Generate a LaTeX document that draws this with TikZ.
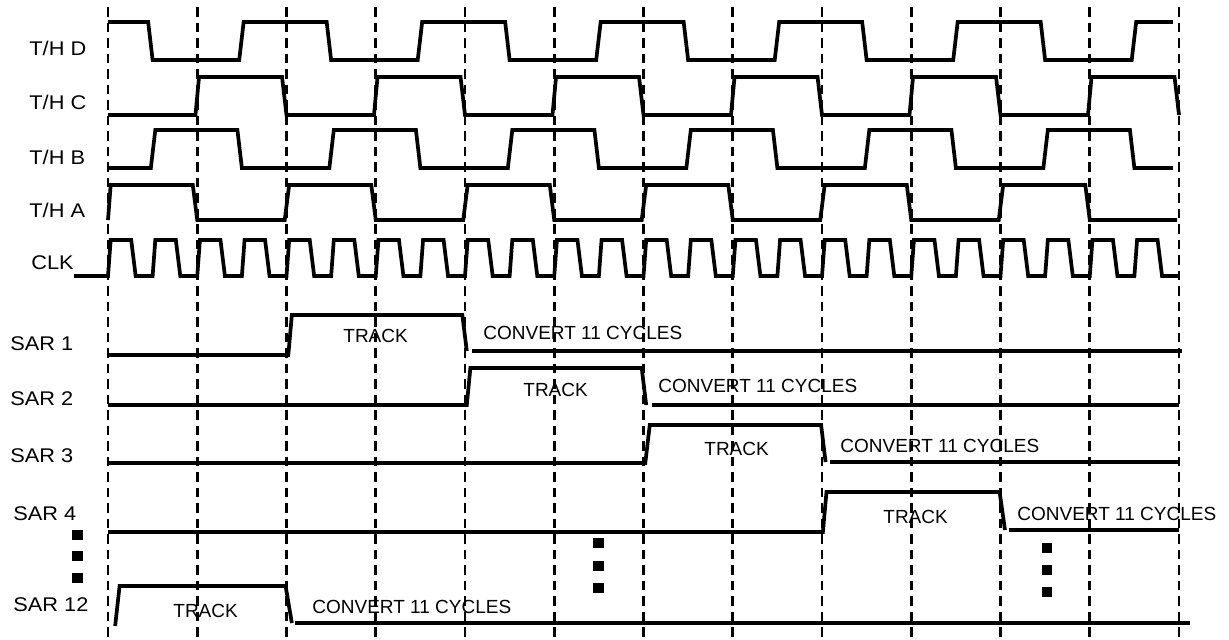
\documentclass[tikz,border=0pt]{standalone}
\usepackage{fontspec}
\setmainfont{Liberation Sans}
\newfontfamily\lblfont[FakeStretch=1.1]{Liberation Sans}
\begin{document}
\begin{tikzpicture}[x=0.5pt, y=-0.5pt,
	sig/.style={line width=1.85pt},
	grid/.style={line width=1.35pt, dash pattern=on 4.75pt off 3pt},
	lbl/.style={anchor=base west, inner sep=0pt, font=\lblfont\fontsize{9.9}{11}\selectfont},
	txt/.style={anchor=base west, inner sep=0pt, font=\fontsize{9.5}{11}\selectfont},
	dot/.style={fill, minimum size=5.3pt, inner sep=0pt}]
	\useasboundingbox (0,0) rectangle (1229,639);
	% Taktraster
	\foreach \k in {0,...,12}
		\draw[grid] (108+89.25*\k,7) -- (108+89.25*\k,639);
	% Beschriftung links
	\node[lbl] (thd) at (29,55) {T/H D};
	\node[lbl] (thc) at (29,109) {T/H C};
	\node[lbl] (thb) at (29,164) {T/H B};
	\node[lbl] (tha) at (29,217) {T/H A};
	\node[lbl] (clk) at (31,269) {CLK};
	\node[lbl] (sar1) at (10,350) {SAR 1};
	\node[lbl] (sar2) at (10,405) {SAR 2};
	\node[lbl] (sar3) at (10,462) {SAR 3};
	\node[lbl] (sar4) at (13,520) {SAR 4};
	\node[lbl] (sar12) at (13,611) {SAR 12};
	\begin{scope}[xshift=54pt, x=44.625pt]
		% T/H D
		\draw[sig] (0,22) foreach \k in {0,...,5} {-- (2*\k+.45,22) -- (2*\k+.5,60) -- (2*\k+1.47,60) -- (2*\k+1.52,22)} -- (11.93,22);
		% T/H C
		\draw[sig] (0,115) foreach \k in {0,...,5} {-- (2*\k+.98,115) -- (2*\k+1.02,77) -- (2*\k+1.95,77) -- (2*\k+2,115)};
		% T/H B
		\draw[sig] (0,168) foreach \k in {0,...,5} {-- (2*\k+.48,168) -- (2*\k+.53,130) -- (2*\k+1.45,130) -- (2*\k+1.5,168)} -- (11.93,168);
		% T/H A
		\draw[sig] (0,220) foreach \k in {0,...,5} {-- (2*\k+.03,185) -- (2*\k+.95,185) -- (2*\k+1,220) -- (2*\k+1.98,220)};
		% Takt
		\draw[sig] (clk.east |- 0,276) -- (0,276) foreach \j in {0,...,23} {-- (\j/2,276) -- (\j/2+.03,240) -- (\j/2+.26,240) -- (\j/2+.31,276)} -- (12,276);
		% SAR 1
		\draw[sig] (0,355) -- (2.02,355) -- (2.06,315) -- (3.97,315) -- (4.02,351);
		\draw[sig] (4.08,351) -- (12.03,351);
		% SAR 2
		\draw[sig] (0,405) -- (4.02,405) -- (4.06,368) -- (5.98,368) -- (6.03,405);
		\draw[sig] (6.09,405) -- (12,405);
		% SAR 3
		\draw[sig] (0,463) -- (6.02,463) -- (6.07,425) -- (7.99,425) -- (8.04,462);
		\draw[sig] (8.09,462) -- (12,462);
		% SAR 4
		\draw[sig] (0,532) -- (8.01,532) -- (8.05,492) -- (9.99,492) -- (10.05,530);
		\draw[sig] (10.09,530) -- (12,530);
		% SAR 12
		\draw[sig] (.08,626) -- (.13,586) -- (1.99,586) -- (2.06,623);
		\draw[sig] (2.1,623) -- (12.12,623);
	\end{scope}
	% Phasen
	\node[txt] (trk1) at (343,342) {TRACK};
	\node[txt] (cnv1) at (483,339) {CONVERT 11 CYCLES};
	\node[txt] (trk2) at (523,396) {TRACK};
	\node[txt] (cnv2) at (658,392) {CONVERT 11 CYCLES};
	\node[txt] (trk3) at (704,455) {TRACK};
	\node[txt] (cnv3) at (840,452) {CONVERT 11 CYCLES};
	\node[txt] (trk4) at (883,523) {TRACK};
	\node[txt] (cnv4) at (1017,520) {CONVERT 11 CYCLES};
	\node[txt] (trk12) at (173,617) {TRACK};
	\node[txt] (cnv12) at (312,613) {CONVERT 11 CYCLES};
	% Auslassungspunkte
	\foreach \y [count=\i] in {535,556,578} \node[dot] (dl\i) at (77.5,\y) {};
	\foreach \y [count=\i] in {543,566,588} \node[dot] (dm\i) at (598.5,\y) {};
	\foreach \y [count=\i] in {548,570,592} \node[dot] (dr\i) at (1047,\y) {};
\end{tikzpicture}
\end{document}
